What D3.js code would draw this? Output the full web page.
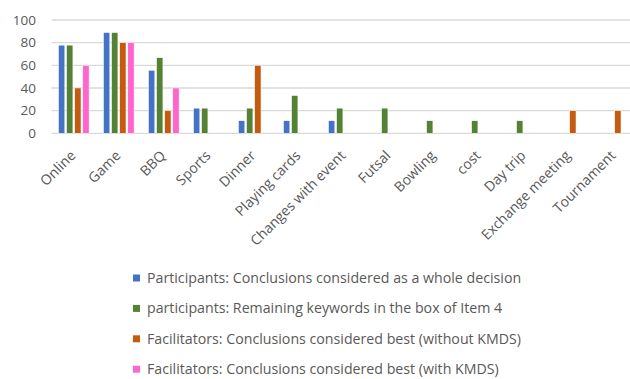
<!DOCTYPE html>
<html>
<head>
<meta charset="utf-8">
<script src="https://cdn.jsdelivr.net/npm/d3@7"></script>
<style>
  body { margin: 0; background: #fff; }
  text { font-family: "Open Sans", Lato, sans-serif; fill: #595959; }
</style>
</head>
<body>
<script>
var categories = ["Online", "Game", "BBQ", "Sports", "Dinner", "Playing cards", "Changes with event",
    "Futsal", "Bowling", "cost", "Day trip", "Exchange meeting", "Tournament"];

var seriesNames = [
    "Participants: Conclusions considered as a whole decision",
    "participants: Remaining keywords in the box of Item 4",
    "Facilitators: Conclusions considered best (without KMDS)",
    "Facilitators: Conclusions considered best (with KMDS)"
];
var seriesColors = ["#4472C4", "#548235", "#C55A11", "#FF66CC"];

var partWhole = [77.8, 88.9, 55.6, 22.2, 11.1, 11.1, 11.1, 0, 0, 0, 0, 0, 0];
var partKeywords = [77.8, 88.9, 66.7, 22.2, 22.2, 33.3, 22.2, 22.2, 11.1, 11.1, 11.1, 0, 0];
var facWithout = [40, 80, 20, 0, 60, 0, 0, 0, 0, 0, 0, 20, 20];
var facWith = [60, 80, 40, 0, 0, 0, 0, 0, 0, 0, 0, 0, 0];

var yTicks = [0, 20, 40, 60, 80, 100];

var allSeries = [partWhole, partKeywords, facWithout, facWith];

var W = 630, H = 379;
var plotLeft = 51.5, plotTop = 20, plotBottom = 133.3;

var svg = d3.select("body").append("svg")
    .attr("width", W)
    .attr("height", H);

// the plot area runs a little past the right edge, like the original
var x = d3.scaleBand().domain(categories).range([plotLeft, plotLeft + 45 * categories.length]);
var x1 = d3.scaleBand().domain(d3.range(4)).range([7, 37.6]).paddingInner(0.22);
var y = d3.scaleLinear().domain([0, 100]).range([plotBottom, plotTop]);

// gridlines
svg.append("g").selectAll("line")
    .data(yTicks)
    .enter().append("line")
    .attr("x1", plotLeft)
    .attr("x2", W)
    .attr("y1", d => y(d))
    .attr("y2", d => y(d))
    .style("stroke", "#d9d9d9")
    .style("stroke-width", 1.3);

// y labels
svg.append("g").selectAll("text")
    .data(yTicks)
    .enter().append("text")
    .attr("x", 36)
    .attr("y", d => y(d))
    .attr("dy", "0.35em")
    .attr("text-anchor", "end")
    .style("font-size", "13.5px")
    .text(d => d);

// bars
var groups = svg.append("g").selectAll("g")
    .data(categories)
    .enter().append("g")
    .attr("transform", d => "translate(" + x(d) + ",0)");

groups.selectAll("rect")
    .data((c, i) => allSeries.map((s, k) => ({ k: k, v: s[i] })).filter(d => d.v > 0))
    .enter().append("rect")
    .attr("x", d => x1(d.k))
    .attr("width", x1.bandwidth())
    .attr("y", d => y(d.v))
    .attr("height", d => y(0) - y(d.v))
    .style("fill", d => seriesColors[d.k])
    .style("stroke", "#fff")
    .style("stroke-width", 0.5);

// x labels, rotated
svg.append("g").selectAll("text")
    .data(categories)
    .enter().append("text")
    .attr("transform", d => "translate(" + (x(d) + x.bandwidth() / 2 - 1) + ",153) rotate(-45)")
    .attr("text-anchor", "end")
    .attr("dy", "0.35em")
    .style("font-size", "14px")
    .text(d => d);

// legend
var legend = svg.append("g").selectAll("g")
    .data(seriesNames)
    .enter().append("g")
    .attr("transform", (d, i) => "translate(133," + (278 + i * 30.4) + ")");

legend.append("rect")
    .attr("x", 0)
    .attr("y", -3.5)
    .attr("width", 7)
    .attr("height", 7)
    .style("fill", (d, i) => seriesColors[i]);

legend.append("text")
    .attr("x", 14)
    .attr("dy", "0.35em")
    .style("font-size", "14.2px")
    .text(d => d);
</script>
</body>
</html>
